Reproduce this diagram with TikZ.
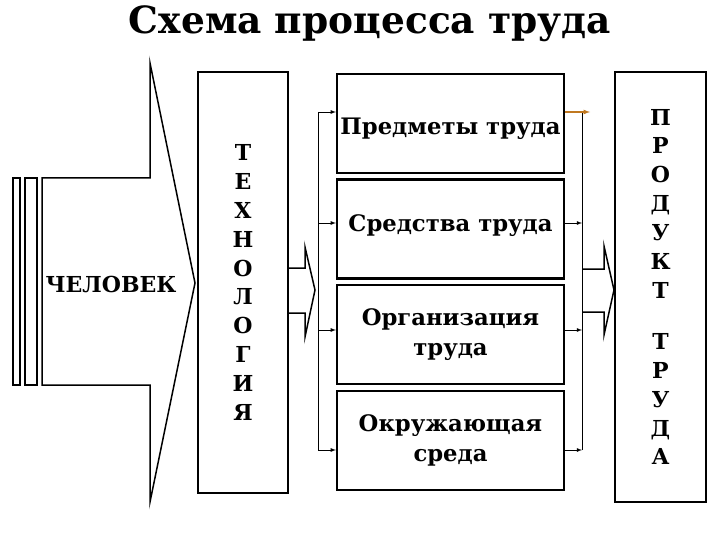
\documentclass[tikz,border=0pt]{standalone}
\usepackage{fontspec}
\setmainfont{DejaVu Serif}
\usetikzlibrary{shapes,decorations}
\definecolor{tipcol}{RGB}{192,120,32}

\begin{document}
\begin{tikzpicture}[x=1pt,y=-1pt,
  stage/.style={draw,line width=2.2pt,minimum width=227pt,minimum height=99pt,inner sep=0pt,align=center,font=\bfseries\fontsize{22.7}{30}\selectfont},
  column/.style={draw,line width=1.6pt,inner sep=0pt,align=center,font=\bfseries\fontsize{22}{28.9}\selectfont},
  feed/.style={-latex,line width=0.8pt}]
\useasboundingbox (0,0) rectangle (720,540);
\node[font=\bfseries\fontsize{37.5}{44}\selectfont] (title) at (370,24) {Схема процесса труда};
% man
\draw[line width=1.5pt] (13,178) rectangle (20,385);
\draw[line width=1.5pt] (25,178) rectangle (37,385);
\draw[line width=1.5pt] (42,178) -- (150,178) -- (150,63) -- (195,283) -- (150,502) -- (150,385) -- (42,385) -- cycle;
\node[font=\bfseries\fontsize{22}{26}\selectfont] (man) at (111,284) {ЧЕЛОВЕК};
\node[column,minimum width=90pt,minimum height=421pt] (tech) at (243,282.5) {Т\\Е\\Х\\Н\\О\\Л\\О\\Г\\И\\Я};
\draw[line width=1.5pt] (288,268) -- (305,268) -- (305,247) -- (315,290) -- (305,337) -- (305,313) -- (288,313);
% elements
\node[stage,text height=28pt] (pred) at (450.5,123.5) {Предметы труда};
\node[stage,text depth=12pt] (sred) at (450.5,229) {Средства труда};
\node[stage] (org) at (450.5,334.5) {Организация\\труда};
\node[stage] (env) at (450.5,440.5) {Окружающая\\среда};
\foreach \b/\y in {pred/112,sred/223,org/330,env/450}{
  \coordinate (l\b) at (318,\y);
  \coordinate (r\b) at (582,\y);
  \draw[feed] (l\b) -- (l\b -| \b.west);
}
\draw[line width=0.8pt] (lpred) -- (lenv);
\draw[line width=0.8pt] (rpred) -- (renv);
\foreach \b in {sred,org,env}
  \draw[feed] (r\b -| \b.east) -- (r\b);
\draw[feed,tipcol,line width=1.2pt] (rpred -| pred.east) -- ([xshift=8pt]rpred);
% product
\draw[line width=1.5pt] (582,269) -- (604,269) -- (604,246) -- (614,290) -- (604,335) -- (604,312) -- (582,312);
\node[column,minimum width=91pt,minimum height=430pt] (prod) at (660.5,287) {П\\Р\\О\\Д\\У\\К\\Т\\[22pt]Т\\Р\\У\\Д\\А};
\end{tikzpicture}
\end{document}
